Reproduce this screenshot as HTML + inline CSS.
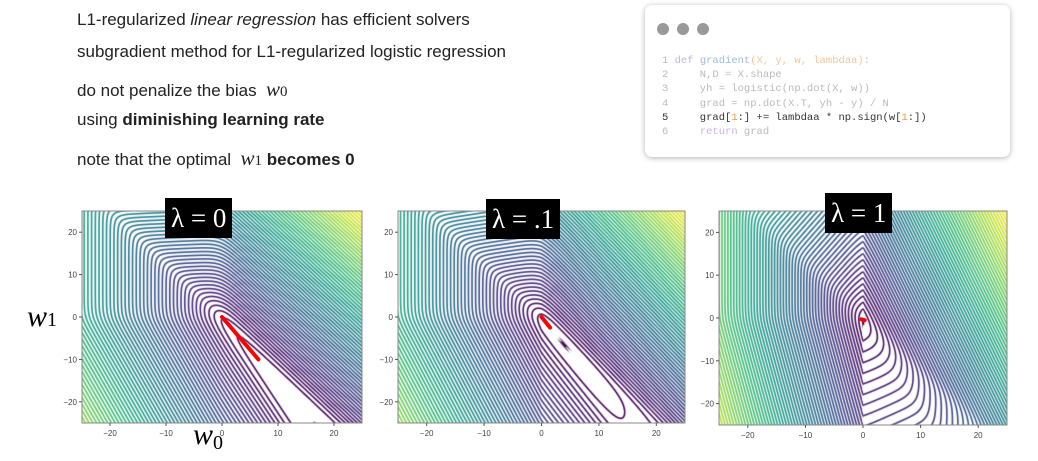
<!DOCTYPE html>
<html><head><meta charset="utf-8">
<style>
body{margin:0;width:1038px;height:461px;background:#fff;position:relative;overflow:hidden;font-family:"Liberation Sans",sans-serif}
.t{position:absolute;left:77px;font-size:17px;color:#222;white-space:nowrap}
.m{font-family:"Liberation Serif",serif;font-style:italic;font-size:21px}
#code{position:absolute;left:645px;top:5px;width:365px;height:152px;border-radius:7px;background:#fff;box-shadow:0 1px 6px rgba(0,0,0,.3)}
.dot{position:absolute;top:18px;width:12px;height:12px;border-radius:50%;background:#999}
pre{position:absolute;left:17px;top:49px;margin:0;font-family:"Liberation Mono",monospace;font-size:10.5px;line-height:14.2px;color:#bbb}
.k{color:#c9b3e0}.f{color:#9fb8e3}.a{color:#f5c59b}.o{color:#f29a3c}.b{color:#333}
canvas{position:absolute}
.lam{position:absolute;background:#000;color:#fff;font-family:"Liberation Serif",serif;font-size:27px;height:40px;line-height:40px;padding:0 6px}
svg{position:absolute;left:0;top:0}
</style></head><body>
<div class="t" style="top:10px">L1-regularized <i>linear regression</i> has efficient solvers</div>
<div class="t" style="top:42px">subgradient method for L1-regularized logistic regression</div>
<div class="t" style="top:77px">do not penalize the bias &nbsp;<span class="m">w</span><span style="font-family:'Liberation Serif';font-size:15px">0</span></div>
<div class="t" style="top:110px">using <b>diminishing learning rate</b></div>
<div class="t" style="top:146px">note that the optimal &nbsp;<span class="m">w</span><span style="font-family:'Liberation Serif';font-size:15px">1</span> <b>becomes 0</b></div>
<div id="code">
<div class="dot" style="left:12px"></div><div class="dot" style="left:32px"></div><div class="dot" style="left:52px"></div>
<pre>1 <span class="k">def</span> <span class="f">gradient</span><span class="a">(X, y, w, lambdaa)</span>:
2     N,D = X.shape
3     yh = logistic(np.dot(X, w))
4     grad = np.dot(X.T, yh - y) / N
<span class="b">5     grad[<span class="o">1</span>:] += lambdaa * np.sign(w[<span class="o">1</span>:])</span>
6     <span class="k">return</span> grad</pre>
</div>
<svg id="ov" width="1038" height="461"></svg>
<div class="lam" style="left:165px;top:198px">λ = 0</div>
<div class="lam" style="left:486px;top:199px">λ = .1</div>
<div class="lam" style="left:825px;top:193px">λ = 1</div>
<div style="position:absolute;left:27px;top:300px;font-family:'Liberation Serif',serif;font-style:italic;font-size:30px">w<span style="font-style:normal;font-size:20px">1</span></div>
<div style="position:absolute;left:193px;top:418px;font-family:'Liberation Serif',serif;font-style:italic;font-size:30px;line-height:34px">w<span style="font-style:normal;font-size:20px;position:relative;top:5px">0</span></div>
<script>
const lambdas=[0,0.1,1];
const pathW0=[[0,6.5],[0,1.5],[-0.3,0.3]];
const pathW1=[[0,-10],[0,-2.5],[-0.3,-0.5]];
const ticks=[-20,-10,0,10,20];
const panels=[{x0:82,x1:362,y0:211,y1:423},{x0:398,x1:685,y0:211,y1:423},{x0:719,x1:1007,y0:211,y1:425}];
const V=[[68,1,84],[72,40,120],[62,73,137],[49,104,142],[38,130,142],[31,158,137],[53,183,121],[109,205,89],[180,222,44],[253,231,37]];
function vir(t){t=Math.max(0,Math.min(1,t))*9;const i=Math.min(8,Math.floor(t)),f=t-i;return V[i].map((c,k)=>c+(V[i+1][k]-c)*f);}
function sp(z){return z>30?z:Math.log1p(Math.exp(z));}
function loss(w0,w1,l){return sp(1.1*(w0+0.8*w1))+0.15*sp(-w0)+sp(-(w0-0.5*sp(-w1)))+l*1.3*Math.abs(w0);}
const ov=document.getElementById('ov');const NS='http://www.w3.org/2000/svg';
function el(t,a){const e=document.createElementNS(NS,t);for(const k in a)e.setAttribute(k,a[k]);ov.appendChild(e);return e;}
panels.forEach((p,pi)=>{
 const W=p.x1-p.x0,H=p.y1-p.y0,l=lambdas[pi];
 const sx=w=>p.x0+(w+25)/50*W, sy=w=>p.y1-(w+25)/50*H;
 const cv=document.createElement('canvas');cv.width=W;cv.height=H;cv.style.left=p.x0+'px';cv.style.top=p.y0+'px';
 
 
 document.body.insertBefore(cv,ov);
 const ctx=cv.getContext('2d'),img=ctx.createImageData(W,H);
 const F=new Float32Array((W+2)*(H+2));let mn=1e9,mx=-1e9;
 for(let j=0;j<H+2;j++)for(let i=0;i<W+2;i++){const v=loss(-25+(i-0.5)/W*50,25-(j-0.5)/H*50,l);F[j*(W+2)+i]=v;if(v<mn)mn=v;if(v>mx)mx=v;}
 const N=65,d=(mx-mn)/N;
 for(let j=0;j<H;j++)for(let i=0;i<W;i++){
  const id=(j+1)*(W+2)+i+1,v=F[id];
  const gx=(F[id+1]-F[id-1])/2,gy=(F[id+W+2]-F[id-W-2])/2,g=Math.hypot(gx,gy)+1e-9;
  const q=(v-mn)/d,fr=Math.abs(q-Math.round(q));
  const dist=fr*d/g;const a=Math.max(0,Math.min(1,1.3-dist));
  const c=vir(Math.round(q)/N);const o=(j*W+i)*4;
  for(let k=0;k<3;k++)img.data[o+k]=255+(c[k]-255)*a;img.data[o+3]=255;}
 ctx.putImageData(img,0,0);
 el('rect',{x:p.x0,y:p.y0,width:W,height:H,fill:'none',stroke:'#888','stroke-width':1});
 ticks.forEach(t=>{
  const x=sx(t),y=sy(t);
  el('line',{x1:x,y1:p.y1,x2:x,y2:p.y1+3,stroke:'#555'});
  const a=el('text',{x:x,y:p.y1+13,'font-size':8,'text-anchor':'middle',fill:'#444','font-family':'Liberation Sans'});a.textContent=t<0?'−'+(-t):t;
  
  el('line',{x1:p.x0-3,y1:y,x2:p.x0,y2:y,stroke:'#555'});
  const b=el('text',{x:p.x0-5,y:y+3,'font-size':8,'text-anchor':'end',fill:'#444','font-family':'Liberation Sans'});b.textContent=t<0?'−'+(-t):t;
  
 });
 const pl=el('polyline',{points:pathW0[pi].map((w,k)=>sx(w)+','+sy(pathW1[pi][k])).join(' '),fill:'none',stroke:'#f00','stroke-width':4,'stroke-linecap':'round'});
 
 
});
</script>
</body></html>
